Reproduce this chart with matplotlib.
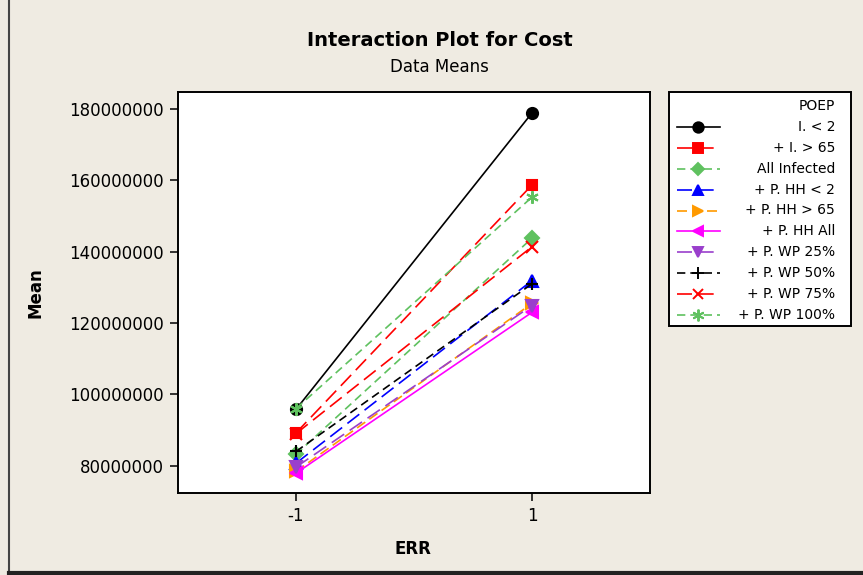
import matplotlib
matplotlib.use("Agg")
import matplotlib.pyplot as plt
from matplotlib.lines import Line2D
from matplotlib.patches import Rectangle

# ERR levels and mean cost per POEP group (in units of 1e6)
err_levels = [-1, 1]
groups = ["I. < 2", "+ I. > 65", "All Infected", "+ P. HH < 2", "+ P. HH > 65",
          "+ P. HH All", "+ P. WP 25%", "+ P. WP 50%", "+ P. WP 75%", "+ P. WP 100%"]
mean_low = [95.8, 89.2, 83.2, 80.7, 78.4, 77.9, 79.6, 84.0, 89.0, 96.0]
mean_high = [178.9, 158.7, 143.8, 131.9, 125.5, 123.0, 124.9, 131.0, 141.4, 155.3]
y_ticks = [80000000, 100000000, 120000000, 140000000, 160000000, 180000000]

# line style per group: colour, marker, dash pattern
colors = ["black", "#FF0000", "#5FC15F", "#0000FF", "#FF9A00",
          "#FF00FF", "#9A3FCC", "black", "#FF0000", "#5FC15F"]
markers = ["o", "s", "D", "^", ">", "<", "v", "+", "x", (6, 2, 0)]
msizes = [8, 7.5, 7, 8, 8, 8, 8, 9, 8, 9]
long_dash = (0, (9, 4))
short_dash = (0, (5, 3))
styles = ["-", long_dash, short_dash, long_dash, (0, (6, 3)),
          "-", long_dash, short_dash, long_dash, short_dash]

W, H = 863, 575
bg = "#EFEBE2"
fig = plt.figure(figsize=(W / 100, H / 100), dpi=100, facecolor=bg)
plt.rcParams["font.family"] = "DejaVu Sans"

ax = fig.add_axes([178 / W, 1 - 493 / H, 472 / W, 401 / H])
ax.set_facecolor("white")

for i, name in enumerate(groups):
    vals = [mean_low[i] * 1e6, mean_high[i] * 1e6]
    ax.plot(err_levels, vals, color=colors[i], linestyle=styles[i], linewidth=1.2,
            marker=markers[i], markersize=msizes[i], markeredgewidth=1.5,
            markerfacecolor=colors[i], markeredgecolor=colors[i], clip_on=False)

ax.set_xlim(-2, 2)
ax.set_ylim(72.35e6, 184.77e6)
ax.set_xticks(err_levels)
ax.set_xticklabels([str(v) for v in err_levels])
ax.set_yticks(y_ticks)
ax.set_yticklabels([f"{v:d}" for v in y_ticks])
ax.tick_params(direction="out", length=6, width=1.1, labelsize=12, pad=4, colors="black")
for sp in ax.spines.values():
    sp.set_linewidth(1.4)

ax.set_xlabel("ERR", fontsize=12, fontweight="bold")
ax.set_ylabel("Mean", fontsize=12, fontweight="bold")
ax.xaxis.set_label_coords(0.498, -0.117)
ax.yaxis.set_label_coords(-0.282, 0.5)

fig.text(440 / W, 1 - 41 / H, "Interaction Plot for Cost", ha="center", va="center",
         fontsize=14, fontweight="bold")
fig.text(439 / W, 1 - 67 / H, "Data Means", ha="center", va="center", fontsize=12)

# legend box drawn in its own axes with right-aligned labels
lw_px, lh_px = 182, 234
lax = fig.add_axes([669 / W, 1 - 326 / H, lw_px / W, lh_px / H])
lax.set_xlim(0, lw_px)
lax.set_ylim(lh_px, 0)
lax.axis("off")
lax.add_patch(Rectangle((0, 0), lw_px, lh_px, facecolor="white", edgecolor="black",
                        linewidth=1.4, clip_on=False))
lax.text(166, 14, "POEP", ha="right", va="center", fontsize=10)
for i, name in enumerate(groups):
    y = 35.3 + i * 20.8
    lax.plot([8, 29, 51], [y, y, y], color=colors[i], linestyle=styles[i], linewidth=1.2,
             marker=markers[i], markevery=[1], markersize=msizes[i] - 0.5,
             markeredgewidth=1.4, markerfacecolor=colors[i], markeredgecolor=colors[i])
    lax.text(166, y, name, ha="right", va="center", fontsize=10)

# window frame lines at left and bottom
fig.add_artist(Line2D([8.5 / W, 8.5 / W], [1 - 571 / H, 1], transform=fig.transFigure,
                      color="#444444", linewidth=1.5))
fig.add_artist(Line2D([8.5 / W, 1], [1 - 573 / H, 1 - 573 / H], transform=fig.transFigure,
                      color="#222222", linewidth=3))

fig.savefig("out.png", dpi=100, facecolor=bg)
